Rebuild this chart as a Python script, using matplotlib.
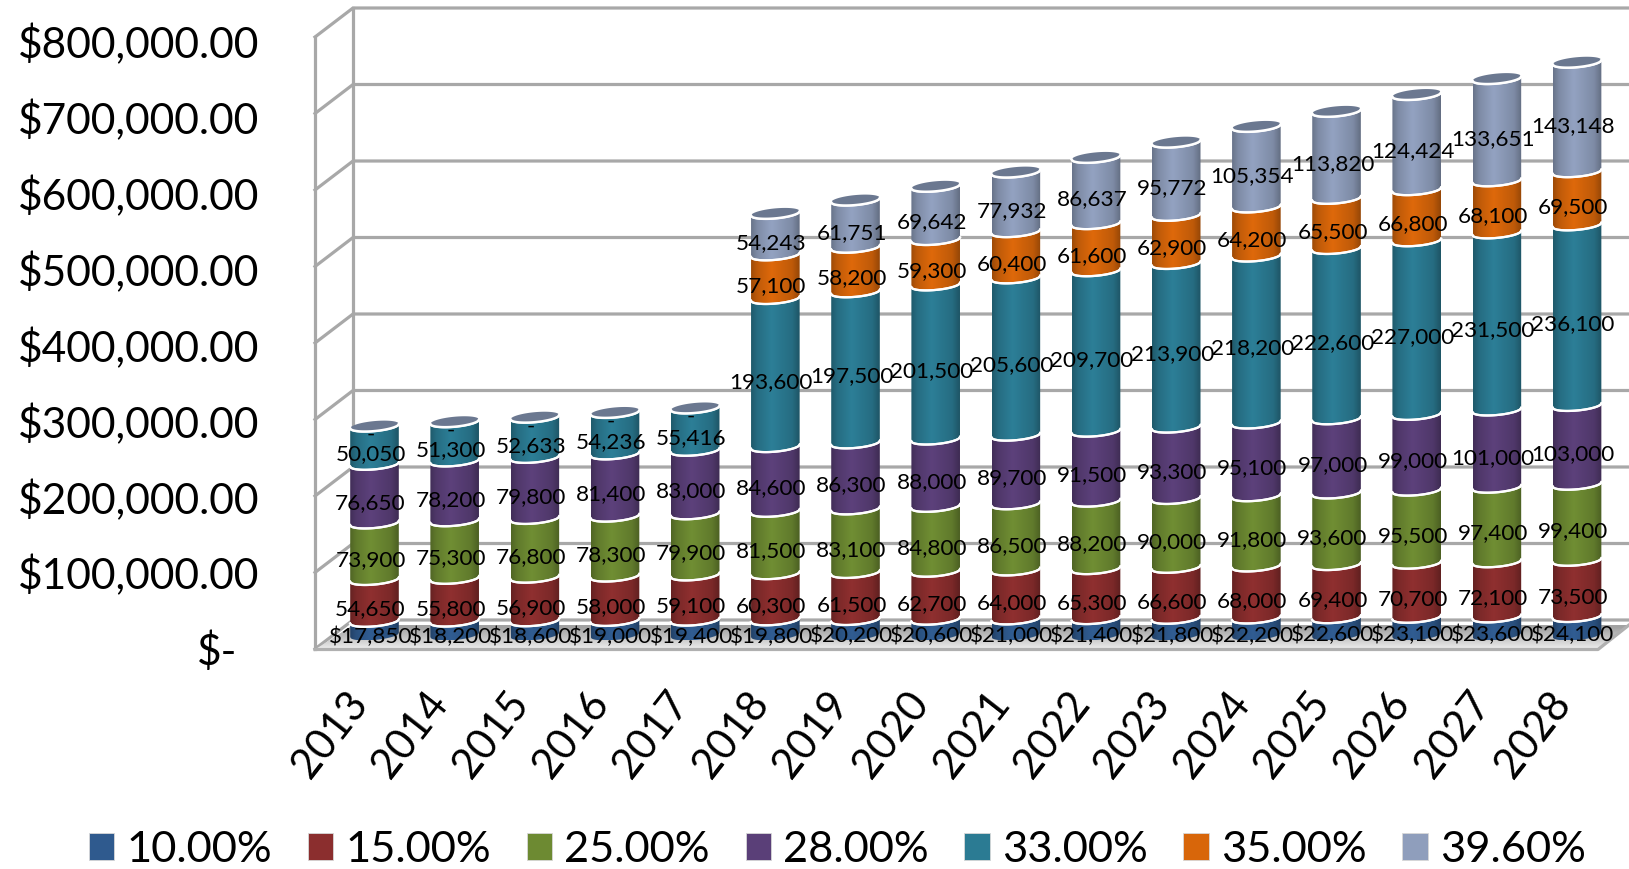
import numpy as np
import matplotlib
matplotlib.use("Agg")
import matplotlib.pyplot as plt
from matplotlib.patches import PathPatch, Polygon, Patch
from matplotlib.path import Path
from matplotlib.colors import to_rgb

plt.rcParams['font.family'] = ['Lato', 'DejaVu Sans']

years = [str(y) for y in range(2013, 2029)]
rate_labels = ['10.00%', '15.00%', '25.00%', '28.00%', '33.00%', '35.00%', '39.60%']
rate_colors = ['#2f5a8e', '#8b2e2e', '#6d8a32', '#5a3f78', '#2b7b93', '#d8660a', '#8f9ebc']

rate_10 = [17850, 18200, 18600, 19000, 19400, 19800, 20200, 20600, 21000, 21400, 21800, 22200, 22600, 23100, 23600, 24100]
rate_15 = [54650, 55800, 56900, 58000, 59100, 60300, 61500, 62700, 64000, 65300, 66600, 68000, 69400, 70700, 72100, 73500]
rate_25 = [73900, 75300, 76800, 78300, 79900, 81500, 83100, 84800, 86500, 88200, 90000, 91800, 93600, 95500, 97400, 99400]
rate_28 = [76650, 78200, 79800, 81400, 83000, 84600, 86300, 88000, 89700, 91500, 93300, 95100, 97000, 99000, 101000, 103000]
rate_33 = [50050, 51300, 52633, 54236, 55416, 193600, 197500, 201500, 205600, 209700, 213900, 218200, 222600, 227000, 231500, 236100]
rate_35 = [0, 0, 0, 0, 0, 57100, 58200, 59300, 60400, 61600, 62900, 64200, 65500, 66800, 68100, 69500]
rate_396 = [0, 0, 0, 0, 0, 54243, 61751, 69642, 77932, 86637, 95772, 105354, 113820, 124424, 133651, 143148]
all_rates = [rate_10, rate_15, rate_25, rate_28, rate_33, rate_35, rate_396]

y_ticks = [0, 100000, 200000, 300000, 400000, 500000, 600000, 700000, 800000]
y_tick_labels = ['$-', '$100,000.00', '$200,000.00', '$300,000.00', '$400,000.00',
                 '$500,000.00', '$600,000.00', '$700,000.00', '$800,000.00']

W, H = 1629, 869
# scale of the data in the picture
PX_CAT = 80.17
PX_VAL = 0.000765
X0, Y0 = 374.5, 640

fig = plt.figure(figsize=(W / 100, H / 100), dpi=100)
ax = fig.add_axes([0, 0, 1, 1])
ax.axis('off')


def dx(px):
    return px / PX_CAT


def dy(px):
    return px / PX_VAL


xlim = (-X0 / PX_CAT, (W - X0) / PX_CAT)
ylim = ((Y0 - H) / PX_VAL, Y0 / PX_VAL)

# walls
grid_col = '#a8a8a8'
front_x = dx(315 - X0)
back_x = dx(353 - X0)
front_off = dy(-9)
back_off = dy(20)
for v in y_ticks:
    ax.plot([front_x, back_x, xlim[1]], [v + front_off, v + back_off, v + back_off],
            color=grid_col, lw=2.3, zorder=1, solid_joinstyle='miter')
ax.plot([front_x, front_x], [front_off, 800000 + front_off], color=grid_col, lw=2.3, zorder=1)
ax.plot([back_x, back_x], [back_off, 800000 + back_off], color=grid_col, lw=2.3, zorder=1)

# floor
floor_top = dy(15)
floor_bot = dy(-9.5)
floor_pts = [(front_x, floor_bot), (back_x, floor_top), (xlim[1], floor_top), (dx(1598 - X0), floor_bot)]
floor = Polygon(floor_pts, closed=True, facecolor='none', edgecolor='none', zorder=2)
ax.add_patch(floor)
grad = np.array(['#a2a2a2', '#b4b4b4', '#c4c4c4', '#d6d6d6', '#e8e8e8'])
grad = np.array([[to_rgb(c)] for c in grad])
im = ax.imshow(grad, extent=(xlim[0], xlim[1], floor_bot, floor_top), aspect='auto',
               interpolation='bilinear', zorder=2)
im.set_clip_path(floor)
ax.plot([front_x, dx(1598 - X0), xlim[1]], [floor_bot, floor_bot, floor_top],
        color='#b0b0b0', lw=2.3, zorder=2)

# cylinders
RX = 24.3
RY = 5.0
TILT = 0.09
t = np.linspace(-1, 1, 61)


def front_arc(i, v):
    xs = i + dx(RX) * t
    ys = v - dy(RY) * (np.sqrt(1 - t ** 2) - 1) + dy(TILT * RX) * t
    return xs, ys


def back_arc(i, v):
    xs = i + dx(RX) * t
    ys = v + dy(RY) * (np.sqrt(1 - t ** 2) + 1) + dy(TILT * RX) * t
    return xs, ys


shade = np.interp(np.linspace(0, 1, 40), [0, 0.12, 0.42, 0.85, 1], [0.74, 0.88, 1.03, 0.88, 0.7])


def draw_segment(i, lo, hi, col):
    xl, yl = front_arc(i, lo)
    xh, yh = front_arc(i, hi)
    pts = np.vstack([np.column_stack([xl, yl]), np.column_stack([xh, yh])[::-1], [[xl[0], yl[0]]]])
    patch = PathPatch(Path(pts), facecolor='none', edgecolor='none', zorder=3)
    ax.add_patch(patch)
    rgb = np.clip(np.outer(shade, to_rgb(col)), 0, 1)[None, :, :]
    seg = ax.imshow(rgb, extent=(i - dx(RX), i + dx(RX), yl.min() - 1, yh.max() + 1),
                    aspect='auto', interpolation='bilinear', zorder=3)
    seg.set_clip_path(patch)
    ax.plot(xh, yh, color='white', lw=1.6, zorder=4)
    if lo > 0:
        ax.plot(xl, yl, color='white', lw=1.6, zorder=4)


cum = np.zeros(len(years))
for s, vals in enumerate(all_rates):
    for i, val in enumerate(vals):
        if val > 0:
            draw_segment(i, cum[i], cum[i] + val, rate_colors[s])
    cum = cum + np.array(vals)

# top caps
for i, total in enumerate(cum):
    xf, yf = front_arc(i, total)
    xb, yb = back_arc(i, total)
    ax.fill(np.r_[xf, xb[::-1]], np.r_[yf, yb[::-1]], color='#6b7890', lw=0, zorder=5)
    ax.plot(xf, yf, color='white', lw=1.8, zorder=6)

# data labels
cum = np.zeros(len(years))
for s, vals in enumerate(all_rates):
    for i, val in enumerate(vals):
        if val == 0:
            txt = '-'
        elif s == 0:
            txt = '${:,}'.format(val)
        else:
            txt = '{:,}'.format(val)
        if val == 0 and s == 5:
            continue
        ax.annotate(txt, xy=(i, cum[i] + val / 2), xytext=(-4, -4), textcoords='offset pixels',
                    ha='center', va='center', fontsize=16.2, color='black', zorder=8)
    cum = cum + np.array(vals)

# axis labels
for v, lab in zip(y_ticks, y_tick_labels):
    right = 237 if v == 0 else 259
    ax.text(dx(right - X0), v * 0.993 + dy(-12), lab, ha='right', va='center', fontsize=30.6, color='black', zorder=8)
for i, yr in enumerate(years):
    ax.annotate(yr, xy=(i, 0), xytext=(-44, -95), textcoords='offset pixels', ha='center', va='center',
                rotation=52, rotation_mode='anchor', fontsize=30, color='black', zorder=8)

handles = [Patch(facecolor=c, edgecolor='#d8d8d8', lw=0.6) for c in rate_colors]
fig.legend(handles, rate_labels, loc='lower center', bbox_to_anchor=(0.514, 0.0), ncol=7, frameon=False,
           fontsize=31.3, handlelength=0.58, handleheight=0.58, handletextpad=0.28, columnspacing=0.825,
           borderpad=0, borderaxespad=0)

ax.set_xlim(*xlim)
ax.set_ylim(*ylim)
fig.savefig('out.png', dpi=100)
